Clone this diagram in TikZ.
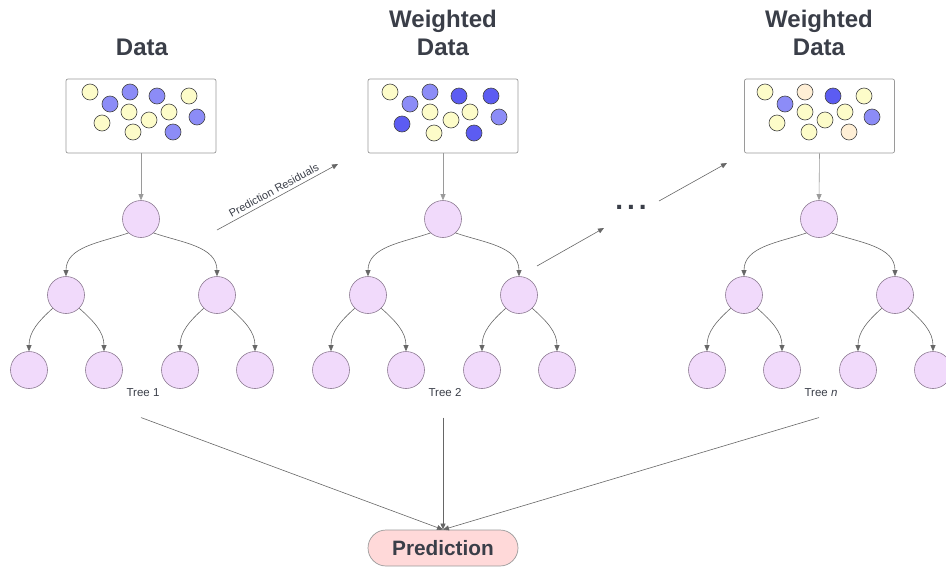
\documentclass[tikz,border=0pt]{standalone}
\usepackage{fontspec}
\setmainfont{Liberation Sans}
\usetikzlibrary{arrows.meta}

\definecolor{txtgray}{HTML}{3A3E48}
\definecolor{lineg}{HTML}{666666}
\definecolor{boxedge}{HTML}{9A9A9A}
\definecolor{nodefill}{HTML}{F1DAFB}
\definecolor{nodeedge}{HTML}{8C7A92}
\definecolor{dotedge}{HTML}{444444}
\definecolor{yel}{HTML}{FDFCC9}
\definecolor{blu}{HTML}{8C8CF7}
\definecolor{dblu}{HTML}{5C5CF2}
\definecolor{peach}{HTML}{FFEFD6}
\definecolor{predfill}{HTML}{FFD9D9}

\begin{document}
\begin{tikzpicture}[x=1pt,y=1pt,
    treenode/.style={circle,draw=nodeedge,fill=nodefill,line width=0.6pt,minimum size=37pt,inner sep=0pt},
    databox/.style={draw=boxedge,fill=white,rounded corners=2pt,minimum width=150pt,minimum height=74pt,line width=0.7pt},
    ball/.style={circle,draw=dotedge,line width=0.6pt,minimum size=16pt,inner sep=0pt},
    edge/.style={draw=lineg,line width=0.6pt,-{Triangle[length=6pt,width=5pt]}},
    title/.style={font=\fontsize{24}{28}\selectfont\bfseries,text=txtgray,align=center},
    treelabel/.style={font=\fontsize{11.5}{13}\selectfont,text=txtgray}]
    \useasboundingbox (0,0) rectangle (946,-568);

    % titles
    \node[title] (title1) at (142,-47) {Data};
    \node[title] (title2) at (443,-33) {Weighted\\Data};
    \node[title] (title3) at (819,-33) {Weighted\\Data};

    % data boxes
    \node[databox] (box1) at (141,-116) {};
    \node[databox] (box2) at (443,-116) {};
    \node[databox] (box3) at (819.5,-116) {};
    \foreach \x/\y/\c in {90/92/yel,110/104/blu,130/92/blu,157/96/blu,189/96/yel,129/112/yel,
                          149/120/yel,169/112/yel,197/117/blu,102/123/yel,133/132/yel,173/132/blu} {
        \node[ball,fill=\c] at (\x,-\y) {};
    }
    \foreach \x/\y/\c in {390/92/yel,410/104/blu,430/92/blu,459/96/dblu,491/96/dblu,430/112/yel,
                          451/120/yel,470/112/yel,499/117/blu,402/124/dblu,434/133/yel,474/133/dblu} {
        \node[ball,fill=\c] at (\x,-\y) {};
    }
    \foreach \x/\y/\c in {765/92/yel,785/104/blu,805/92/peach,833/96/dblu,864/96/yel,805/112/yel,
                          825/120/yel,845/112/yel,872/117/blu,777/123/yel,809/132/yel,849/132/peach} {
        \node[ball,fill=\c] at (\x,-\y) {};
    }

    % trees
    \foreach \tx/\k/\lbl in {141/1/1,443/2/2,819/3/{\textit{n}}} {
        \node[treenode] (root\k) at (\tx,-219) {};
        \node[treenode] (l\k) at (\tx-75,-295) {};
        \node[treenode] (r\k) at (\tx+76,-295) {};
        \node[treenode] (ll\k) at (\tx-112,-370) {};
        \node[treenode] (lr\k) at (\tx-37,-370) {};
        \node[treenode] (rl\k) at (\tx+39,-370) {};
        \node[treenode] (rr\k) at (\tx+114,-370) {};
        \node[treelabel] (tree\k) at (\tx+2,-393) {Tree \lbl};
        \draw[edge,draw=boxedge] (box\k.south) -- (root\k.north);
        \draw[edge] (root\k.228) to[out=199,in=90] (l\k.north);
        \draw[edge] (root\k.-48) to[out=-19,in=90] (r\k.north);
        \draw[edge] (l\k.225) to[out=222,in=90] (ll\k.north);
        \draw[edge] (l\k.-45) to[out=-42,in=90] (lr\k.north);
        \draw[edge] (r\k.225) to[out=222,in=90] (rl\k.north);
        \draw[edge] (r\k.-45) to[out=-42,in=90] (rr\k.north);
    }

    % prediction
    \node[draw=boxedge,fill=predfill,rounded corners=18pt,minimum width=150pt,minimum height=36pt,
          line width=0.7pt,font=\fontsize{20.8}{24}\selectfont\bfseries,text=txtgray] (pred) at (443,-548) {Prediction};
    \foreach \k in {1,2,3} {
        \draw[edge] (tree\k.south) ++(-2,-17) -- (pred.north);
    }

    % residual arrows between trees
    \coordinate (res1) at (217,-230);
    \coordinate (res2) at (338,-164);
    \coordinate (res3) at (537,-266);
    \coordinate (res4) at (604,-228);
    \coordinate (res5) at (659,-201);
    \coordinate (res6) at (727,-163);
    \node[font=\fontsize{28}{30}\selectfont\bfseries,text=txtgray] (dots) at (631,-207) {.\kern4pt.\kern4pt.};
    \draw[edge] (res1) -- node[midway,above,sloped,font=\fontsize{11}{12}\selectfont,text=txtgray] {Prediction Residuals} (res2);
    \draw[edge] (res3) -- (res4);
    \draw[edge] (res5) -- (res6);
\end{tikzpicture}
\end{document}
